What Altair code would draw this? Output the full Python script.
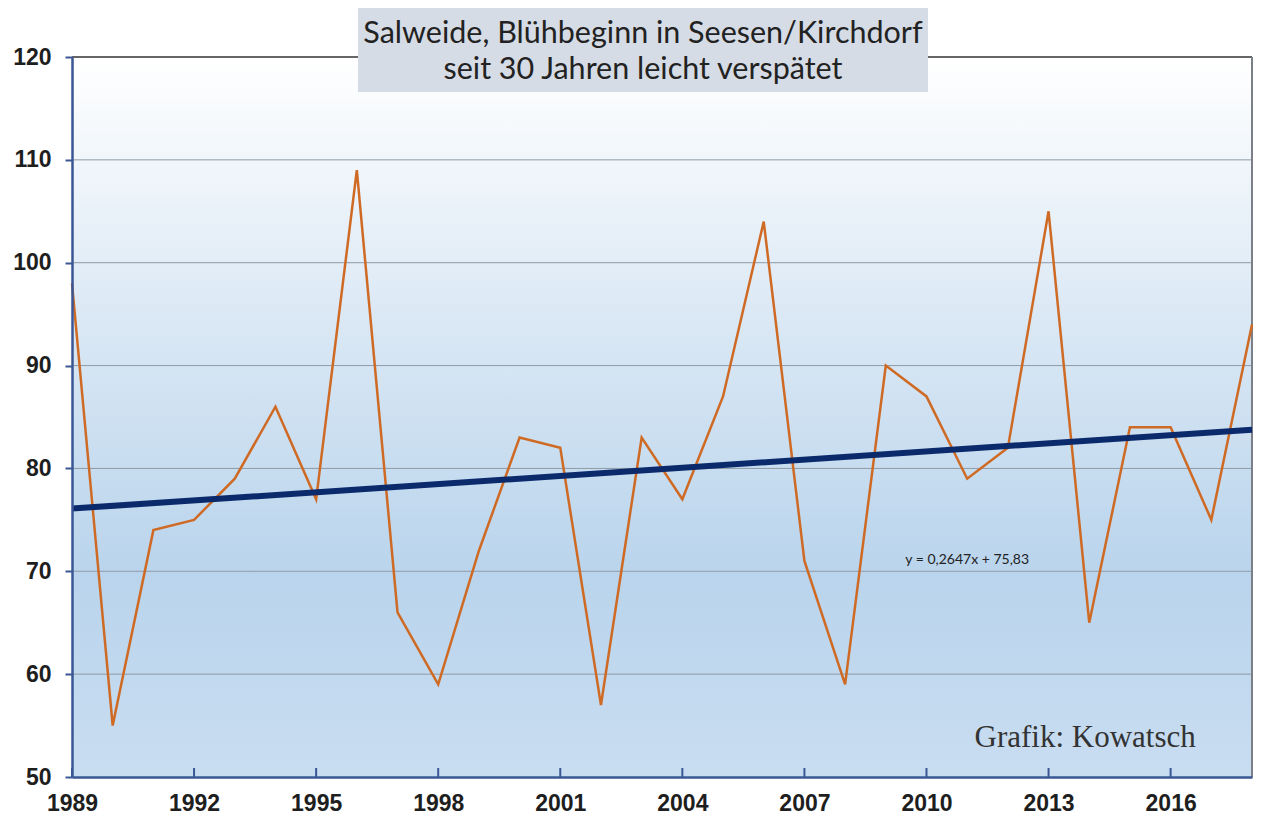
import altair as alt
import pandas as pd

# ---- data ----
years = list(range(1989, 2019))
bloom_day = [98, 55, 74, 75, 79, 86, 77, 109, 66, 59,
             72, 83, 82, 57, 83, 77, 87, 104, 71, 59,
             90, 87, 79, 82, 105, 65, 84, 84, 75, 94]
trend_slope = 0.2647
trend_intercept = 75.83
x_ticks = [1989, 1992, 1995, 1998, 2001, 2004, 2007, 2010, 2013, 2016]
y_ticks = [50, 60, 70, 80, 90, 100, 110, 120]
grid_values = [60, 70, 80, 90, 100, 110]
title_lines = ["Salweide, Blühbeginn in Seesen/Kirchdorf", "seit 30 Jahren leicht verspätet"]
equation_text = "y = 0,2647x + 75,83"
credit_text = "Grafik: Kowatsch"

W, H = 1180, 720

df = pd.DataFrame({"year": years, "day": bloom_day})
trend_df = pd.DataFrame({
    "year": [years[0], years[-1]],
    "day": [trend_slope * 1 + trend_intercept, trend_slope * len(years) + trend_intercept],
})
grid_df = pd.DataFrame({"day": grid_values})
xt_df = pd.DataFrame({"year": x_ticks})
one = pd.DataFrame({"a": [0]})

xscale = alt.Scale(domain=[1989, 2018], nice=False, zero=False)
yscale = alt.Scale(domain=[50, 120], nice=False, zero=False)

background = alt.Chart(one).mark_rect(
    color=alt.Gradient(
        gradient="linear",
        stops=[
            alt.GradientStop(color="#ffffff", offset=0),
            alt.GradientStop(color="#dce9f5", offset=0.35),
            alt.GradientStop(color="#b9d4ec", offset=0.72),
            alt.GradientStop(color="#c9ddf1", offset=1),
        ],
        x1=0, x2=0, y1=0, y2=1,
    )
).encode(x=alt.value(0), x2=alt.value(W), y=alt.value(0), y2=alt.value(H))

grid = alt.Chart(grid_df).mark_rule(color="#8f9aa6", strokeWidth=1).encode(
    y=alt.Y("day:Q", scale=yscale)
)

top_rule = alt.Chart(one).mark_rule(color="#333333", strokeWidth=1.5).encode(
    x=alt.value(0), x2=alt.value(W), y=alt.value(0)
)
right_rule = alt.Chart(one).mark_rule(color="#7a7f88", strokeWidth=2).encode(
    x=alt.value(W), y=alt.value(0), y2=alt.value(H)
)

xticks = alt.Chart(xt_df).mark_rule(color="#3a5795", strokeWidth=2).encode(
    x=alt.X("year:Q", scale=xscale), y=alt.value(H), y2=alt.value(H - 9)
)

line = alt.Chart(df).mark_line(color="#cf6a25", strokeWidth=2.5).encode(
    x=alt.X("year:Q", scale=xscale,
            axis=alt.Axis(values=x_ticks, format="d", title=None, grid=False,
                          ticks=False, domainColor="#3a5795", domainWidth=2.5,
                          labelFont="Liberation Sans", labelFontWeight="bold",
                          labelFontSize=23, labelColor="#1e1e1e", labelPadding=15,
                          labelFlush=False, zindex=1)),
    y=alt.Y("day:Q", scale=yscale,
            axis=alt.Axis(values=y_ticks, title=None, grid=False,
                          domainColor="#3a5795", domainWidth=2.5,
                          tickColor="#3a5795", tickSize=7, tickWidth=2,
                          labelFont="Liberation Sans", labelFontWeight="bold",
                          labelFontSize=23, labelColor="#1e1e1e", labelPadding=14,
                          labelFlush=False, zindex=1)),
)

trend = alt.Chart(trend_df).mark_line(color="#0a2a6c", strokeWidth=6).encode(
    x=alt.X("year:Q", scale=xscale), y=alt.Y("day:Q", scale=yscale)
)

eq = alt.Chart(pd.DataFrame({"year": [2011.0], "day": [71.1], "t": [equation_text]})).mark_text(
    font="Lato", fontSize=14, color="#222222", align="center", baseline="middle"
).encode(x=alt.X("year:Q", scale=xscale), y=alt.Y("day:Q", scale=yscale), text="t:N")

credit = alt.Chart(pd.DataFrame({"year": [2013.9], "day": [53.8], "t": [credit_text]})).mark_text(
    font="Liberation Serif", fontSize=31, color="#333333", align="center", baseline="middle"
).encode(x=alt.X("year:Q", scale=xscale), y=alt.Y("day:Q", scale=yscale), text="t:N")

title_box = alt.Chart(one).mark_rect(color="#d6dce5").encode(
    x=alt.value(286), x2=alt.value(856), y=alt.value(-50), y2=alt.value(35)
)
title_text = alt.Chart(one).mark_text(
    text=title_lines, font="Lato", fontSize=30.5, color="#222222",
    align="center", baseline="alphabetic", lineHeight=36
).encode(x=alt.value(571), y=alt.value(-14))

chart = alt.layer(
    background, grid, top_rule, right_rule, xticks, line, trend, eq, credit,
    title_box, title_text
).properties(
    width=W, height=H,
    padding={"left": 64, "top": 49, "right": 20, "bottom": 40},
    autosize=alt.AutoSizeParams(type="none"),
).configure_view(stroke=None).configure(background="#ffffff")

chart.save("out.html", embed_options={"renderer": "svg", "actions": False})
